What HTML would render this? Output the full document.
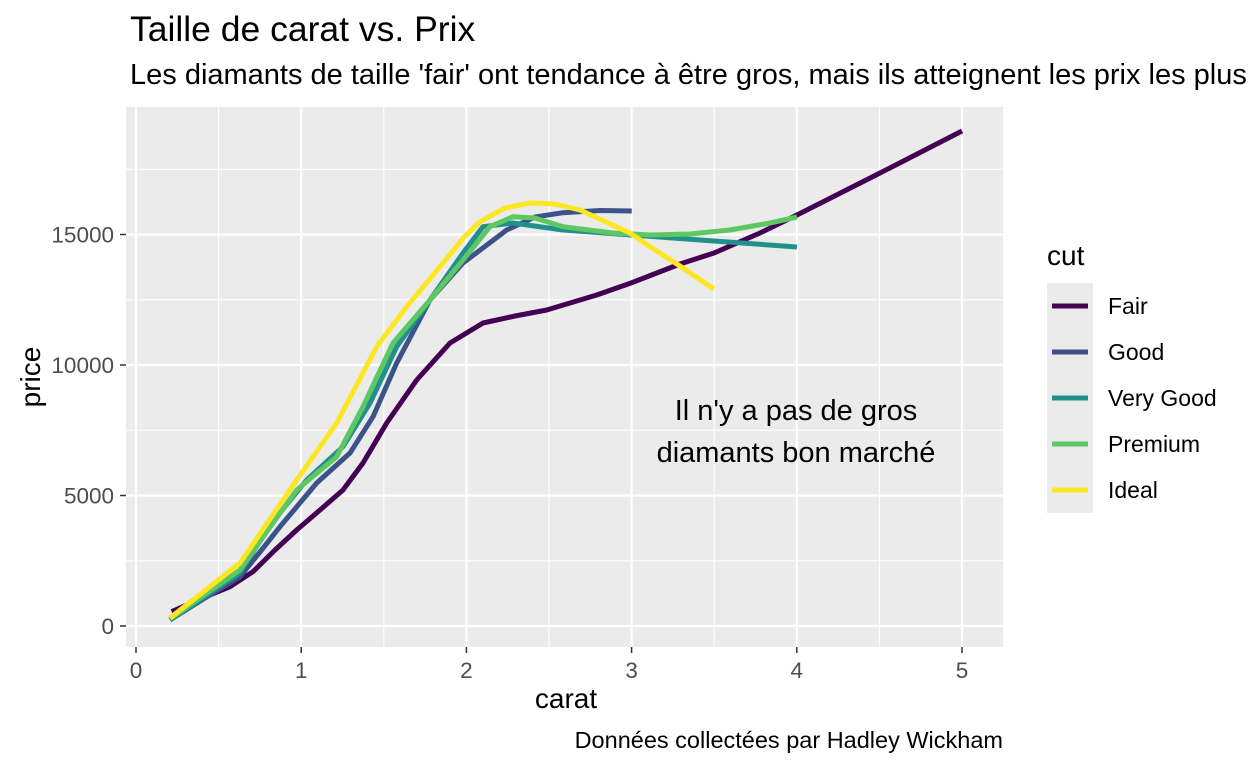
<!DOCTYPE html>
<html><head><meta charset="utf-8"><style>body{margin:0;background:#fff}svg{display:block}</style></head>
<body>
<svg width="1248" height="768" xmlns="http://www.w3.org/2000/svg" font-family="Liberation Sans, sans-serif">
<rect width="1248" height="768" fill="#fff"/>
<text x="130" y="41" font-size="35.5" fill="#000">Taille de carat vs. Prix</text>
<text x="130" y="84" font-size="29" fill="#000">Les diamants de taille 'fair' ont tendance à être gros, mais ils atteignent les prix les plus bas pour la plupart des tailles de carat.</text>
<rect x="126" y="107" width="877" height="540" fill="#ebebeb"/>
<g stroke="#fff" stroke-width="1.1">
<line x1="218.6" y1="107" x2="218.6" y2="647"/><line x1="383.8" y1="107" x2="383.8" y2="647"/><line x1="549" y1="107" x2="549" y2="647"/><line x1="714.2" y1="107" x2="714.2" y2="647"/><line x1="879.4" y1="107" x2="879.4" y2="647"/>
<line x1="126" y1="560.8" x2="1003" y2="560.8"/><line x1="126" y1="430.3" x2="1003" y2="430.3"/><line x1="126" y1="299.8" x2="1003" y2="299.8"/><line x1="126" y1="169.3" x2="1003" y2="169.3"/>
</g>
<g stroke="#fff" stroke-width="2.2">
<line x1="136" y1="107" x2="136" y2="647"/><line x1="301.2" y1="107" x2="301.2" y2="647"/><line x1="466.4" y1="107" x2="466.4" y2="647"/><line x1="631.6" y1="107" x2="631.6" y2="647"/><line x1="796.8" y1="107" x2="796.8" y2="647"/><line x1="962" y1="107" x2="962" y2="647"/>
<line x1="126" y1="626" x2="1003" y2="626"/><line x1="126" y1="495.5" x2="1003" y2="495.5"/><line x1="126" y1="365" x2="1003" y2="365"/><line x1="126" y1="234.5" x2="1003" y2="234.5"/>
</g>
<g stroke="#333" stroke-width="1.5">
<line x1="136" y1="647" x2="136" y2="653"/><line x1="301.2" y1="647" x2="301.2" y2="653"/><line x1="466.4" y1="647" x2="466.4" y2="653"/><line x1="631.6" y1="647" x2="631.6" y2="653"/><line x1="796.8" y1="647" x2="796.8" y2="653"/><line x1="962" y1="647" x2="962" y2="653"/>
<line x1="120" y1="626" x2="126" y2="626"/><line x1="120" y1="495.5" x2="126" y2="495.5"/><line x1="120" y1="365" x2="126" y2="365"/><line x1="120" y1="234.5" x2="126" y2="234.5"/>
</g>
<g font-size="22.5" fill="#4d4d4d" text-anchor="middle">
<text x="136" y="678">0</text><text x="301.2" y="678">1</text><text x="466.4" y="678">2</text><text x="631.6" y="678">3</text><text x="796.8" y="678">4</text><text x="962" y="678">5</text>
</g>
<g font-size="22.5" fill="#4d4d4d" text-anchor="end">
<text x="114" y="634">0</text><text x="114" y="503.5">5000</text><text x="114" y="373">10000</text><text x="114" y="242.5">15000</text>
</g>
<text x="566" y="708" font-size="28" text-anchor="middle">carat</text>
<text transform="translate(40,377) rotate(-90)" font-size="28" text-anchor="middle">price</text>
<g fill="none" stroke-width="5" stroke-linejoin="round" stroke-linecap="butt">
<polyline stroke="#440154" points="171.7,611.7 200,599 230,586.7 253,571.7 275,550 296.7,530 320,510 343,490 363,463 386.7,423 416.7,380 450,343 483,323 515,316 546.7,310 596.7,295 631,283 680,264 714,253 760,233 797,215 880,173 962,131"/>
<polyline stroke="#3B528B" points="170,620 205,598 240,576.7 260,552 280,526.7 316.7,483 350,453 373,416.7 396.7,363 430,300 463,263 506.7,230 535,217 563,212.7 600,210.5 631.7,211"/>
<polyline stroke="#21908C" points="170,620 240,573 270,525 306.7,480 343,446.7 370,403 396.7,346.7 430,300 463,253 483,226.7 513,223 563,230 631.7,235 700,240 797,247"/>
<polyline stroke="#5DC863" points="170,619 240,570 268,530 296.7,490 336.7,456.7 363,406.7 393,343 430,300 463,260 490,226.7 513,216.7 535,218 563,226.7 613,233 650,235 690,234 730,230 770,223 797,217"/>
<polyline stroke="#FDE725" points="170,618 240,563 268,522 296.7,480 336.7,423 376.7,346.7 406.7,306.7 443,263 465,236 480,221.7 505,208 530,203 555,204 580,210 630,233 650,246.7 680,266 714,289"/>
</g>
<text x="796" y="420" font-size="29" text-anchor="middle">Il n'y a pas de gros</text>
<text x="796" y="462" font-size="29" text-anchor="middle">diamants bon marché</text>
<text x="1047" y="265" font-size="28">cut</text>
<rect x="1047" y="283" width="46" height="230" fill="#ebebeb"/>
<g stroke-width="5">
<line x1="1052" y1="306" x2="1088" y2="306" stroke="#440154"/>
<line x1="1052" y1="352" x2="1088" y2="352" stroke="#3B528B"/>
<line x1="1052" y1="398" x2="1088" y2="398" stroke="#21908C"/>
<line x1="1052" y1="444" x2="1088" y2="444" stroke="#5DC863"/>
<line x1="1052" y1="490" x2="1088" y2="490" stroke="#FDE725"/>
</g>
<g font-size="23">
<text x="1108" y="314">Fair</text><text x="1108" y="360">Good</text><text x="1108" y="406">Very Good</text><text x="1108" y="452">Premium</text><text x="1108" y="498">Ideal</text>
</g>
<text x="1003" y="748" font-size="23.5" text-anchor="end">Données collectées par Hadley Wickham</text>
</svg>
</body></html>
